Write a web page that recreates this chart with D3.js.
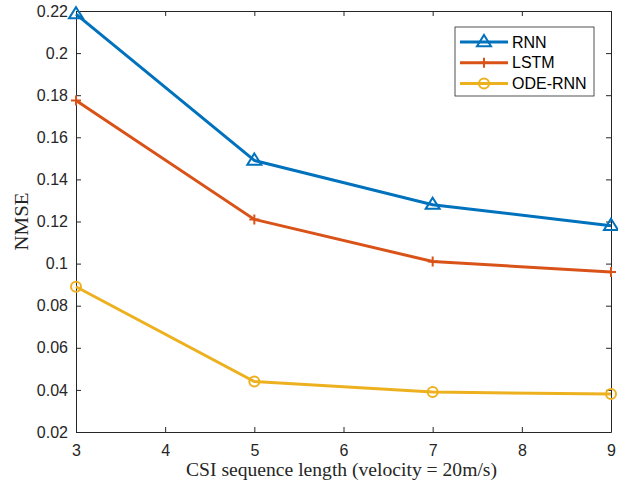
<!DOCTYPE html>
<html><head><meta charset="utf-8">
<script src="https://cdn.jsdelivr.net/npm/d3@7"></script>
<style>body{margin:0;background:#fff}</style>
</head><body>
<svg id="c" width="618" height="489"></svg>
<script>
const xValues = [3, 5, 7, 9];
const rnn = [0.2185, 0.149, 0.128, 0.118];
const lstm = [0.1775, 0.121, 0.101, 0.096];
const odeRnn = [0.089, 0.044, 0.039, 0.038];
const seriesNames = ["RNN", "LSTM", "ODE-RNN"];
const xTicks = [3, 4, 5, 6, 7, 8, 9];
const yTicks = [0.02, 0.04, 0.06, 0.08, 0.1, 0.12, 0.14, 0.16, 0.18, 0.2, 0.22];
const colors = ["#0072BD", "#D95319", "#EDB120"];

const svg = d3.select("#c");
const L = 76, R = 611, T = 11, B = 432;
const x = d3.scaleLinear().domain([3, 9]).range([L, R]);
const y = d3.scaleLinear().domain([0.02, 0.22]).range([B, T]);
const axisColor = "#262626";
const tickFont = "'Liberation Sans', Arial, sans-serif";
const serif = "'Liberation Serif', 'Times New Roman', serif";

const gx = svg.append("g").attr("transform", `translate(0,${B})`)
  .call(d3.axisBottom(x).tickValues(xTicks).tickFormat(d3.format("d")).tickSizeInner(-5).tickSizeOuter(0).tickPadding(13));
const gxt = svg.append("g").attr("transform", `translate(0,${T})`)
  .call(d3.axisTop(x).tickValues(xTicks).tickFormat("").tickSizeInner(-5).tickSizeOuter(0));
const gy = svg.append("g").attr("transform", `translate(${L},0)`)
  .call(d3.axisLeft(y).tickValues(yTicks).tickFormat(d => d3.format("")(+d.toFixed(2))).tickSizeInner(-5).tickSizeOuter(0).tickPadding(8));
const gyr = svg.append("g").attr("transform", `translate(${R},0)`)
  .call(d3.axisRight(y).tickValues(yTicks).tickFormat("").tickSizeInner(-5).tickSizeOuter(0));
[gx, gxt, gy, gyr].forEach(g => {
  g.select(".domain").attr("stroke", axisColor).attr("stroke-width", 1);
  g.selectAll(".tick line").attr("stroke", axisColor);
  g.selectAll("text").attr("fill", axisColor).style("font-family", tickFont).style("font-size", "16px");
});
gx.selectAll(".tick text").attr("dy", "0.71em");

const data = [rnn, lstm, odeRnn];
const line = d3.line().x((d, i) => x(xValues[i])).y(d => y(d));

function marker(g, type, cx, cy, color) {
  if (type === 0) {
    const s = 7;
    g.append("path").attr("d", `M${cx},${cy - s} L${cx + s},${cy + s * 0.6} L${cx - s},${cy + s * 0.6} Z`)
      .attr("fill", "none").attr("stroke", color).attr("stroke-width", 2);
  } else if (type === 1) {
    const s = 5;
    g.append("path").attr("d", `M${cx - s},${cy} H${cx + s} M${cx},${cy - s} V${cy + s}`)
      .attr("stroke", color).attr("stroke-width", 2);
  } else {
    g.append("circle").attr("cx", cx).attr("cy", cy).attr("r", 5)
      .attr("fill", "none").attr("stroke", color).attr("stroke-width", 2);
  }
}

data.forEach((vals, k) => {
  const g = svg.append("g");
  g.append("path").datum(vals).attr("d", line).attr("fill", "none")
    .attr("stroke", colors[k]).attr("stroke-width", 3);
  vals.forEach((v, i) => marker(g, k, x(xValues[i]), y(v), colors[k]));
});

// legend
const lg = svg.append("g");
lg.append("rect").attr("x", 455).attr("y", 27).attr("width", 139).attr("height", 69)
  .attr("fill", "#fff").attr("stroke", "#262626").attr("stroke-width", 0.8);
seriesNames.forEach((n, k) => {
  const ly = 42 + k * 20.7;
  lg.append("line").attr("x1", 460).attr("x2", 508).attr("y1", ly).attr("y2", ly)
    .attr("stroke", colors[k]).attr("stroke-width", 3);
  marker(lg, k, 484, ly, colors[k]);
  lg.append("text").attr("x", 512).attr("y", ly).attr("dy", "0.36em").text(n)
    .attr("fill", "#000").style("font-family", tickFont).style("font-size", "16px");
});

svg.append("text").attr("x", (L + R) / 2 - 2).attr("y", 476).attr("text-anchor", "middle")
  .attr("textLength", 311).attr("lengthAdjust", "spacingAndGlyphs")
  .style("font-family", serif).style("font-size", "18px").attr("fill", axisColor)
  .text("CSI sequence length (velocity = 20m/s)");
svg.append("text").attr("transform", `translate(28,${(T + B) / 2}) rotate(-90)`).attr("text-anchor", "middle")
  .attr("textLength", 58).attr("lengthAdjust", "spacingAndGlyphs")
  .style("font-family", serif).style("font-size", "18px").attr("fill", axisColor)
  .text("NMSE");
</script>
</body></html>
